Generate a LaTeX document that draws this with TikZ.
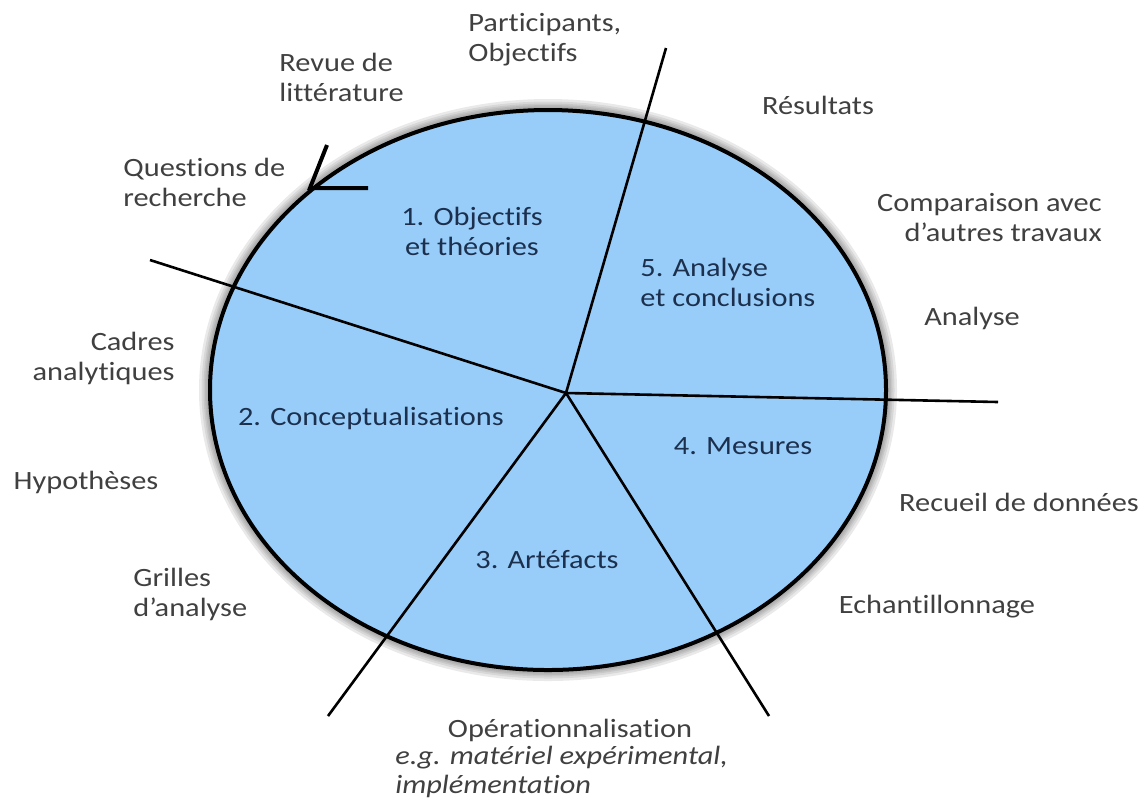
\documentclass[tikz,border=0pt]{standalone}
\usepackage{fontspec}
\setmainfont{Carlito}[FakeStretch=1.15,Ligatures=NoCommon]
\definecolor{fillblue}{RGB}{152,205,250}
\definecolor{outtext}{RGB}{64,64,64}
\definecolor{intext}{RGB}{28,48,78}
\begin{document}
\begin{tikzpicture}[x=0.5pt,y=-0.5pt,
  outlabel/.style={text=outtext,font=\fontsize{13.2}{15}\selectfont,inner sep=0pt},
  inlabel/.style={text=intext,font=\fontsize{13.2}{15}\selectfont,inner sep=0pt},
  divider/.style={line width=1.3pt,black},
  glow/.style={line width=#1,draw=black!60,draw opacity=0.14}]
\useasboundingbox (0,0) rectangle (1144,805);
% ellipse with soft shadow
\foreach \w in {11pt,8.5pt,6.5pt,5pt,3.5pt}{
  \draw[glow=\w] (548,390) ellipse [x radius=338, y radius=280];
}
\fill[fillblue] (548,390) ellipse [x radius=338, y radius=280];
% dividers
\coordinate (c) at (566,393);
\coordinate (eUL) at (150,260);
\coordinate (eT) at (666,48);
\coordinate (eR) at (998,402);
\coordinate (eLR) at (769,716);
\coordinate (eLL) at (328,716);
\draw[divider] (c) -- (eUL);
\draw[divider] (c) -- (eT);
\draw[divider] (c) -- (eR);
\draw[divider] (c) -- (eLR);
\draw[divider] (c) -- (eLL);
\draw[line width=2pt] (548,390) ellipse [x radius=338, y radius=280];
% arrow chevron
\coordinate (atip) at (310,188);
\coordinate (ah) at (368,188);
\coordinate (av) at (327,145);
\draw[line width=2pt,line join=miter] (av) -- (atip) -- (ah);
% inner labels
\node[inlabel,align=center] (s1) at (472,231) {1. Objectifs\\et théories};
\node[inlabel] (s2) at (371,418) {2. Conceptualisations};
\node[inlabel] (s3) at (547,560) {3. Artéfacts};
\node[inlabel] (s4) at (743,446) {4. Mesures};
\node[inlabel,align=left,anchor=west] (s5) at (640,282) {5. Analyse\\et conclusions};
% outer labels
\node[outlabel,align=left,anchor=west] (lpart) at (468,40) {Participants,\\Objectifs};
\node[outlabel,align=left,anchor=west] (lrevue) at (279,77) {Revue de\\littérature};
\node[outlabel,align=left,anchor=west] (lquest) at (123,182) {Questions de\\recherche};
\node[outlabel] (lres) at (818,105) {Résultats};
\node[outlabel,align=right,anchor=east] (lcomp) at (1102,218) {Comparaison avec\\d’autres travaux};
\node[outlabel] (lana) at (972,318) {Analyse};
\node[outlabel] (lrec) at (1019,502) {Recueil de données};
\node[outlabel] (lech) at (937,607) {Echantillonnage};
\node[outlabel,align=right,anchor=east] (lcad) at (175,358) {Cadres\\analytiques};
\node[outlabel] (lhyp) at (86,482) {Hypothèses};
\node[outlabel,align=left,anchor=west] (lgri) at (133,594) {Grilles\\d’analyse};
\node[outlabel] (lop1) at (570,730) {Opérationnalisation};
\node[outlabel,anchor=west] (lop2) at (395,758) {\itshape e.g. matériel expérimental,};
\node[outlabel,anchor=west] (lop3) at (395,786) {\itshape implémentation};
\end{tikzpicture}
\end{document}
